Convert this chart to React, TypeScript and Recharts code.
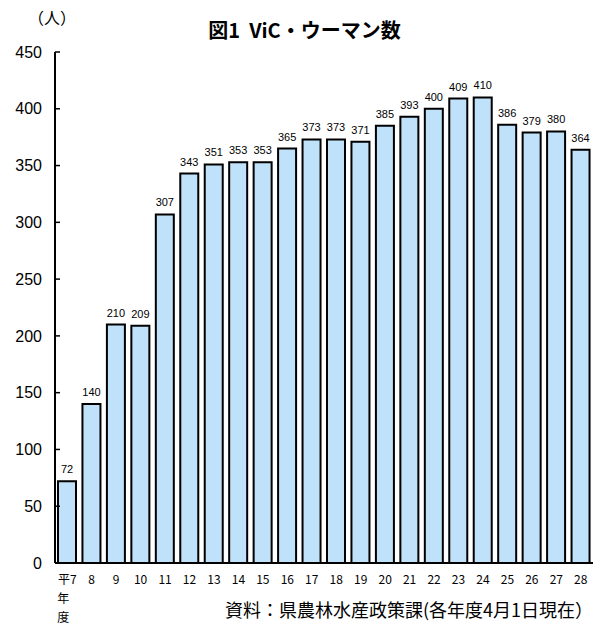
import { BarChart, Bar, XAxis, YAxis, LabelList } from "recharts";

const years = ["平7", "8", "9", "10", "11", "12", "13", "14", "15", "16", "17", "18", "19", "20", "21", "22", "23", "24", "25", "26", "27", "28"];
const counts = [72, 140, 210, 209, 307, 343, 351, 353, 353, 365, 373, 373, 371, 385, 393, 400, 409, 410, 386, 379, 380, 364];
const yTicks = [0, 50, 100, 150, 200, 250, 300, 350, 400, 450];

const chartData = years.map((y, i) => ({ year: y, count: counts[i] }));

const jp = '"Noto Sans CJK JP", sans-serif';

function YearTick(props: any) {
    const { x, y, payload, index } = props;
    return (
        <g>
            <text x={x} y={y + 13} textAnchor="middle" fontSize={12} fontFamily={jp} fill="#000">
                {payload.value}
            </text>
            {index === 0 && (
                <>
                    <text x={x - 4} y={y + 32} textAnchor="middle" fontSize={12} fontFamily={jp} fill="#000">年</text>
                    <text x={x - 4} y={y + 51} textAnchor="middle" fontSize={12} fontFamily={jp} fill="#000">度</text>
                </>
            )}
        </g>
    );
}

export default function App() {
    return (
        <div style={{ position: "relative", width: 595, height: 626 }}>
            <style>{"body{margin:0}"}</style>
            <BarChart
                width={595}
                height={626}
                data={chartData}
                margin={{ top: 52, right: 2, bottom: 33, left: 0 }}
                barSize={18}
            >
                <XAxis
                    dataKey="year"
                    height={30}
                    axisLine={{ stroke: "#000", strokeWidth: 2 }}
                    tickLine={false}
                    tick={<YearTick />}
                    interval={0}
                />
                <YAxis
                    width={55}
                    domain={[0, 450]}
                    ticks={yTicks}
                    interval={0}
                    axisLine={{ stroke: "#000", strokeWidth: 2 }}
                    tickLine={{ stroke: "#000", strokeWidth: 1.5 }}
                    tickSize={-5}
                    tickMargin={18}
                    tick={{ fontSize: 16, fill: "#000", fontFamily: "Arial, 'Liberation Sans', sans-serif" }}
                />
                <Bar dataKey="count" fill="#bfe1fa" stroke="#000" strokeWidth={2} isAnimationActive={false}>
                    <LabelList dataKey="count" position="top" offset={8} fontSize={11} fill="#000" fontFamily="'Liberation Sans Narrow', Arial, sans-serif" />
                </Bar>
            </BarChart>
            <div style={{ position: "absolute", left: 28, top: 5, fontSize: 16, fontFamily: jp }}>（人）</div>
            <div style={{ position: "absolute", left: 0, width: 595, top: 15, textAlign: "center", paddingLeft: 14, boxSizing: "border-box", fontSize: 20, fontWeight: "bold", fontFamily: jp }}>
                図1&nbsp; ViC・ウーマン数
            </div>
            <div style={{ position: "absolute", right: 2, top: 596, fontSize: 18, fontFamily: jp, lineHeight: "26px" }}>
                資料：県農林水産政策課(各年度4月1日現在）
            </div>
        </div>
    );
}
